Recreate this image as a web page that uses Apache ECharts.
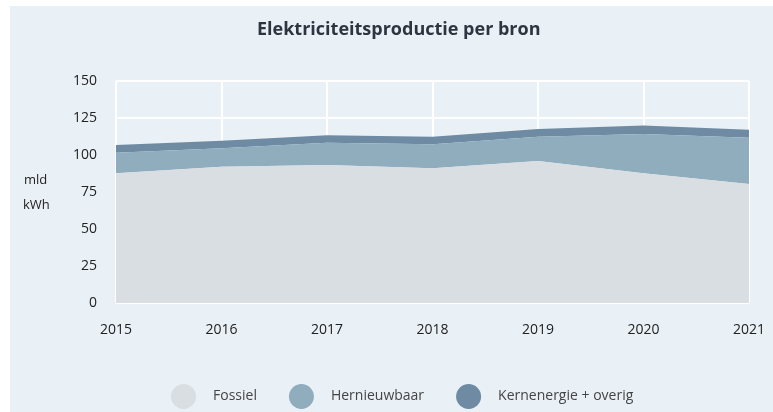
<!DOCTYPE html>
<html>
<head>
<meta charset="utf-8">
<script src="https://cdn.jsdelivr.net/npm/echarts@6/dist/echarts.min.js"></script>
<style>
html,body{margin:0;padding:0;background:#ffffff;}
#c{width:773px;height:412px;}
</style>
</head>
<body>
<div id="c"></div>
<script>
var years = ['2015','2016','2017','2018','2019','2020','2021'];
var fossiel = [87.6, 92.1, 93.2, 91.0, 96.0, 87.6, 80.4];
var hernieuwbaar = [14.0, 12.4, 15.1, 16.2, 16.4, 26.6, 31.3];
var kernenergie = [5.2, 5.2, 5.0, 5.2, 5.2, 5.8, 5.3];
var seriesNames = ['Fossiel', 'Hernieuwbaar', 'Kernenergie + overig'];
var colors = ['#d8dee2', '#8fadbd', '#6e8ba3'];

var font = '"Open Sans", Lato, sans-serif';
var chart = echarts.init(document.getElementById('c'), null, {renderer: 'canvas'});
function areaSeries(name, data, color, z) {
  return {
    name: name, type: 'line', stack: 'total', data: data,
    symbol: 'none', showSymbol: false, smooth: false,
    lineStyle: {width: 0, color: color},
    itemStyle: {color: color},
    areaStyle: {color: color, opacity: 1},
    z: z
  };
}
chart.setOption({
  backgroundColor: '#ffffff',
  animation: false,
  graphic: [
    {type: 'rect', z: -10, silent: true, shape: {x: 10, y: 6, width: 763, height: 406}, style: {fill: '#eaf1f6'}},
    {type: 'text', left: 24, top: 174, style: {text: 'mld', font: '13px ' + font, fill: '#222'}},
    {type: 'text', left: 23, top: 199, style: {text: 'kWh', font: '13px ' + font, fill: '#222'}}
  ],
  title: {
    text: 'Elektriciteitsproductie per bron',
    left: 252, top: 16,
    textStyle: {fontFamily: font, fontSize: 18, fontWeight: 'bold', color: '#2d3640'}
  },
  grid: {left: 116, right: 24, top: 81, bottom: 109, containLabel: false},
  xAxis: {
    type: 'category', data: years, boundaryGap: false,
    axisLine: {show: false}, axisTick: {show: false},
    axisLabel: {color: '#222', fontFamily: font, fontSize: 14, margin: 20},
    splitLine: {show: true, lineStyle: {color: '#ffffff', width: 2}}
  },
  yAxis: {
    type: 'value', min: 0, max: 150, interval: 25,
    axisLine: {show: false}, axisTick: {show: false},
    axisLabel: {color: '#222', fontFamily: font, fontSize: 14, margin: 19},
    splitLine: {show: true, lineStyle: {color: '#ffffff', width: 2}}
  },
  legend: {
    top: 379, left: 166,
    itemWidth: 25, itemHeight: 25, itemGap: 32, icon: 'circle',
    data: seriesNames,
    textStyle: {color: '#444', fontFamily: font, fontSize: 14, padding: [0, 0, 0, 12]}
  },
  series: [
    areaSeries(seriesNames[0], fossiel, colors[0], 3),
    areaSeries(seriesNames[1], hernieuwbaar, colors[1], 2),
    areaSeries(seriesNames[2], kernenergie, colors[2], 1)
  ]
});
</script>
</body>
</html>
